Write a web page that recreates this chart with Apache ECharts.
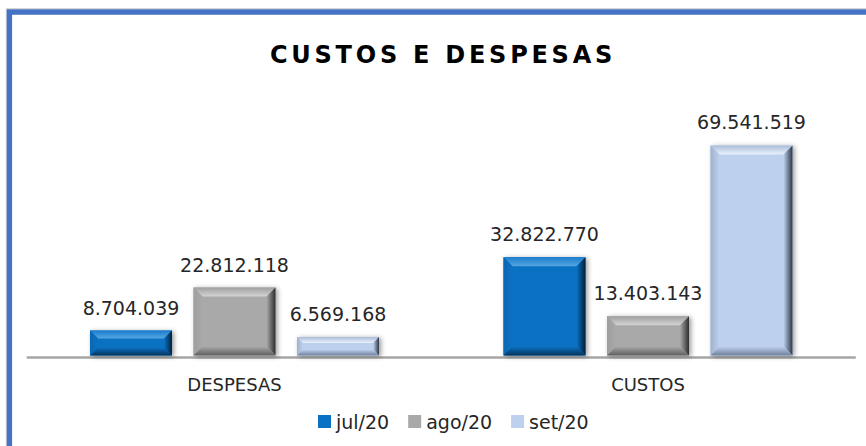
<!DOCTYPE html>
<html><head><meta charset="utf-8">
<script src="https://cdn.jsdelivr.net/npm/echarts@6/dist/echarts.min.js"></script>
<style>html,body{margin:0;padding:0;background:#fff}#chart{width:866px;height:446px}</style>
</head><body><div id="chart"></div>
<script>
const titleText = 'CUSTOS E DESPESAS';
const categories = ['DESPESAS', 'CUSTOS'];
const seriesNames = ['jul/20', 'ago/20', 'set/20'];
const julValues = [8704039, 32822770];
const agoValues = [22812118, 13403143];
const setValues = [6569168, 69541519];

const palettes = [
  {base:'#0B72C3', topOut:'#1A7CCB', topIn:'#55A6E2', leftOut:'#0966B2', rightOut:'#021E38', bottomOut:'#03335C'},
  {base:'#A9A9A9', topOut:'#A0A0A0', topIn:'#D4D4D4', leftOut:'#9E9E9E', rightOut:'#2E2E2E', bottomOut:'#5E5E5E'},
  {base:'#BDD1EE', topOut:'#A9BCD8', topIn:'#EAF1FC', leftOut:'#9FB1CC', rightOut:'#2C3646', bottomOut:'#6F7F9B'}
];
const FONT = '"DejaVu Sans", sans-serif';

function fmt(v){ return String(v).replace(/\B(?=(\d{3})+(?!\d))/g, '.'); }
function grad(x0, y0, x1, y1, c0, c1){
  return {type:'linear', x:x0, y:y0, x2:x1, y2:y1, global:true,
          colorStops:[{offset:0, color:c0}, {offset:1, color:c1}]};
}

function makeRender(si){
  return function(params, api){
    const ci = api.value(0), v = api.value(1);
    const base = api.coord([ci, 0]);
    const topP = api.coord([ci, v]);
    const band = api.size([1, 0])[0];
    const w = band * 0.1983;
    const cx = base[0] + (si - 1) * band * 0.2503;
    const x = cx - w / 2, y = topP[1], h = base[1] - 1.5 - topP[1];
    const b = Math.min(9, h * 0.32);
    const p = palettes[si];
    const poly = (pts, fill) => ({type:'polygon', shape:{points:pts}, style:{fill: fill}});
    return {
      type:'group',
      children:[
        {type:'rect', shape:{x:x, y:y, width:w, height:h},
         style:{fill:p.base, shadowBlur:5, shadowColor:'rgba(0,0,0,0.4)', shadowOffsetX:2, shadowOffsetY:1}},
        {type:'rect', shape:{x:x+b, y:y+b, width:w-2*b, height:h-2*b}, style:{fill:p.base}},
        poly([[x,y],[x+w,y],[x+w-b,y+b],[x+b,y+b]], grad(0, y, 0, y+b, p.topOut, p.topIn)),
        poly([[x,y],[x+b,y+b],[x+b,y+h-b],[x,y+h]], grad(x, 0, x+b, 0, p.leftOut, p.base)),
        poly([[x+w,y],[x+w,y+h],[x+w-b,y+h-b],[x+w-b,y+b]], grad(x+w-b, 0, x+w, 0, p.base, p.rightOut)),
        poly([[x,y+h],[x+b,y+h-b],[x+w-b,y+h-b],[x+w,y+h]], grad(0, y+h-b, 0, y+h, p.base, p.bottomOut)),
        {type:'text', x:cx, y:y-23,
         style:{text:fmt(v), fill:'#262626', font:'19px ' + FONT,
                align:'center', verticalAlign:'middle', textAlign:'center', textVerticalAlign:'middle'}}
      ]
    };
  };
}

const allValues = [julValues, agoValues, setValues];
const series = seriesNames.map((name, si) => ({
  type:'custom',
  name:name,
  renderItem: makeRender(si),
  encode:{x:0, y:1},
  itemStyle:{color: palettes[si].base},
  data: allValues[si].map((v, ci) => [ci, v]),
  z: 3
}));

const chart = echarts.init(document.getElementById('chart'), null, {renderer:'svg'});
chart.setOption({
  animation:false,
  backgroundColor:'#ffffff',
  title:{
    text:titleText, left:438, top:38, textAlign:'center',
    textStyle:{fontFamily:FONT, fontWeight:'bold', fontSize:24, color:'#000000'}
  },
  legend:{
    data:seriesNames, left:313, top:407, itemWidth:13, itemHeight:13, itemGap:19,
    icon:'rect',
    textStyle:{fontFamily:FONT, fontSize:19, color:'#262626'}
  },
  grid:{left:27.75, right:11.25, top:144, bottom:89, containLabel:false},
  xAxis:{
    type:'category', data:categories,
    axisLine:{show:true, lineStyle:{color:'#A6A6A6', width:2.5}},
    axisTick:{show:false},
    axisLabel:{fontFamily:FONT, fontSize:18, color:'#262626', margin:18},
    splitLine:{show:false}
  },
  yAxis:{type:'value', min:0, max:70000000, show:false, splitLine:{show:false}},
  graphic:[
    {type:'rect', shape:{x:6.3, y:8.6, width:900, height:500}, style:{fill:'none', stroke:'#D0D0D0', lineWidth:1}, z:100},
    {type:'rect', shape:{x:9.4, y:12, width:900, height:500}, style:{fill:'none', stroke:'#4472C4', lineWidth:5.4}, z:101}
  ],
  series: series
});

function spaceTitle(){
  document.querySelectorAll('#chart text').forEach(t => {
    if (t.textContent.trim() === titleText) t.setAttribute('letter-spacing', '3.75');
  });
}
spaceTitle();
chart.on('finished', spaceTitle);
setTimeout(spaceTitle, 0);
</script>
</body></html>
